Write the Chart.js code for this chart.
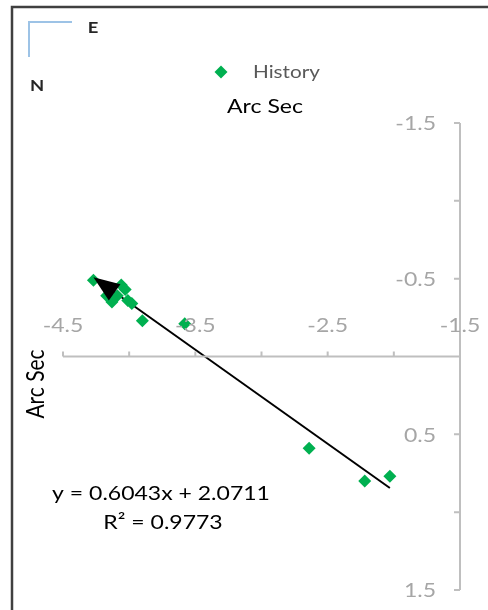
<!DOCTYPE html>
<html>
<head>
<meta charset="utf-8">
<script src="https://cdn.jsdelivr.net/npm/chart.js@4/dist/chart.umd.min.js"></script>
<style>
  html, body { margin: 0; padding: 0; background: #fff; }
  canvas { display: block; }
</style>
</head>
<body>
<canvas id="arcChart" width="488" height="610"></canvas>
<script>
// History points (Arc Sec E, Arc Sec N)
const histX = [-4.27, -4.06, -4.03, -4.13, -4.09, -4.01, -3.98, -4.17, -3.90, -3.58, -2.64, -2.22, -2.03];
const histY = [-0.49, -0.46, -0.43, -0.35, -0.39, -0.36, -0.34, -0.39, -0.23, -0.21, 0.59, 0.80, 0.77];

// linear trendline from the picture
const slope = 0.6043;
const intercept = 2.0711;
const rSquared = 0.9773;

// axis ticks
const xTickValues = [-4.5, -4, -3.5, -3, -2.5, -2, -1.5];
const xTickLabels = ['-4.5', '', '-3.5', '', '-2.5', '', '-1.5'];
const yTickValues = [-1.5, -1, -0.5, 0, 0.5, 1, 1.5];
const yTickLabels = ['-1.5', '', '-0.5', '', '0.5', '', '1.5'];

const FONT = 'Lato, "Open Sans", sans-serif';
const STRETCH = 1.15; // the original text is a bit wide

document.addEventListener('DOMContentLoaded', () => {
  const points = histX.map((x, i) => ({ x: x, y: histY[i] }));
  const xMin = Math.min(...histX);
  const xMax = Math.max(...histX);
  const trend = [
    { x: xMin, y: slope * xMin + intercept },
    { x: xMax, y: slope * xMax + intercept }
  ];

  function wideText(ctx, str, x, y) {
    ctx.save();
    ctx.translate(x, y);
    ctx.scale(STRETCH, 1);
    ctx.fillText(str, 0, 0);
    ctx.restore();
  }

  // axes, labels, arrow and border drawn on top of the chart
  const decorations = {
    id: 'decorations',
    afterDraw(chart) {
      const ctx = chart.ctx;
      const xs = chart.scales.x;
      const ys = chart.scales.y;
      ctx.save();

      // x axis crossing at y = 0
      const y0 = ys.getPixelForValue(0);
      const xRight = xs.getPixelForValue(-1.5);
      ctx.strokeStyle = '#bfbfbf';
      ctx.lineWidth = 2;
      ctx.beginPath();
      ctx.moveTo(xs.getPixelForValue(-4.5), y0);
      ctx.lineTo(xRight, y0);
      xTickValues.forEach(v => {
        const px = xs.getPixelForValue(v);
        ctx.moveTo(px, y0);
        ctx.lineTo(px, y0 - 5);
      });
      // y axis at x = -1.5
      ctx.moveTo(xRight, ys.getPixelForValue(-1.5));
      ctx.lineTo(xRight, ys.getPixelForValue(1.5));
      yTickValues.forEach(v => {
        const py = ys.getPixelForValue(v);
        ctx.moveTo(xRight, py);
        ctx.lineTo(xRight - 6, py);
      });
      ctx.stroke();

      ctx.fillStyle = '#a6a6a6';
      ctx.font = '20px ' + FONT;
      ctx.textBaseline = 'middle';
      ctx.textAlign = 'center';
      xTickValues.forEach((v, i) => {
        if (xTickLabels[i]) wideText(ctx, xTickLabels[i], xs.getPixelForValue(v), y0 - 31);
      });
      ctx.textAlign = 'right';
      yTickValues.forEach((v, i) => {
        if (yTickLabels[i]) wideText(ctx, yTickLabels[i], xRight - 24, ys.getPixelForValue(v) + 1);
      });

      // arrow head at the start of the trendline
      const tm = chart.getDatasetMeta(1).data;
      const p0 = tm[0], p1 = tm[1];
      const ang = Math.atan2(p0.y - p1.y, p0.x - p1.x);
      const len = 26, half = 10;
      const bx = p0.x - Math.cos(ang) * len;
      const by = p0.y - Math.sin(ang) * len;
      ctx.fillStyle = '#000';
      ctx.beginPath();
      ctx.moveTo(p0.x, p0.y);
      ctx.lineTo(bx + Math.sin(ang) * half, by - Math.cos(ang) * half);
      ctx.lineTo(bx - Math.sin(ang) * half, by + Math.cos(ang) * half);
      ctx.closePath();
      ctx.fill();

      // axis titles, legend, equation
      ctx.fillStyle = '#000';
      ctx.textAlign = 'center';
      ctx.font = '20px ' + FONT;
      wideText(ctx, 'Arc Sec', 265, 107);
      wideText(ctx, 'y = ' + slope.toFixed(4) + 'x + ' + intercept.toFixed(4), 161, 494);
      wideText(ctx, 'R\u00b2 = ' + rSquared.toFixed(4), 163, 523);

      ctx.font = '21px ' + FONT;
      ctx.save();
      ctx.translate(36, 384);
      ctx.rotate(-Math.PI / 2);
      ctx.scale(1, STRETCH);
      ctx.fillText('Arc Sec', 0, 0);
      ctx.restore();

      ctx.fillStyle = '#00b050';
      ctx.beginPath();
      ctx.moveTo(221, 65.5); ctx.lineTo(227.5, 72); ctx.lineTo(221, 78.5); ctx.lineTo(214.5, 72);
      ctx.closePath();
      ctx.fill();
      ctx.fillStyle = '#595959';
      ctx.textAlign = 'left';
      ctx.font = '18px ' + FONT;
      wideText(ctx, 'History', 253, 72);

      // compass
      ctx.strokeStyle = '#9dc3e6';
      ctx.lineWidth = 2;
      ctx.beginPath();
      ctx.moveTo(72, 22); ctx.lineTo(29, 22); ctx.lineTo(29, 57);
      ctx.stroke();
      ctx.fillStyle = '#262626';
      ctx.font = 'bold 16px ' + FONT;
      ctx.textAlign = 'center';
      wideText(ctx, 'E', 93, 28);
      wideText(ctx, 'N', 37, 86);

      // outer frame
      ctx.strokeStyle = '#404040';
      ctx.lineWidth = 2.5;
      ctx.beginPath();
      ctx.moveTo(12, 612); ctx.lineTo(12, 7); ctx.lineTo(490, 7);
      ctx.stroke();
      ctx.restore();
    }
  };

  new Chart(document.getElementById('arcChart'), {
    type: 'scatter',
    data: {
      datasets: [{
        label: 'History',
        data: points,
        pointStyle: 'rectRot',
        radius: 6.5,
        backgroundColor: '#00b050',
        borderColor: '#00b050',
        borderWidth: 0
      }, {
        label: 'Trend',
        type: 'line',
        data: trend,
        borderColor: '#000',
        borderWidth: 2,
        pointRadius: 0,
        fill: false
      }]
    },
    options: {
      responsive: false,
      animation: false,
      layout: { padding: { left: 63, right: 28, top: 123, bottom: 20 } },
      plugins: { legend: { display: false }, tooltip: { enabled: false }, title: { display: false } },
      scales: {
        x: { type: 'linear', min: -4.5, max: -1.5, display: false },
        y: { type: 'linear', min: -1.5, max: 1.5, reverse: true, display: false }
      }
    },
    plugins: [decorations]
  });
});
</script>
</body>
</html>
